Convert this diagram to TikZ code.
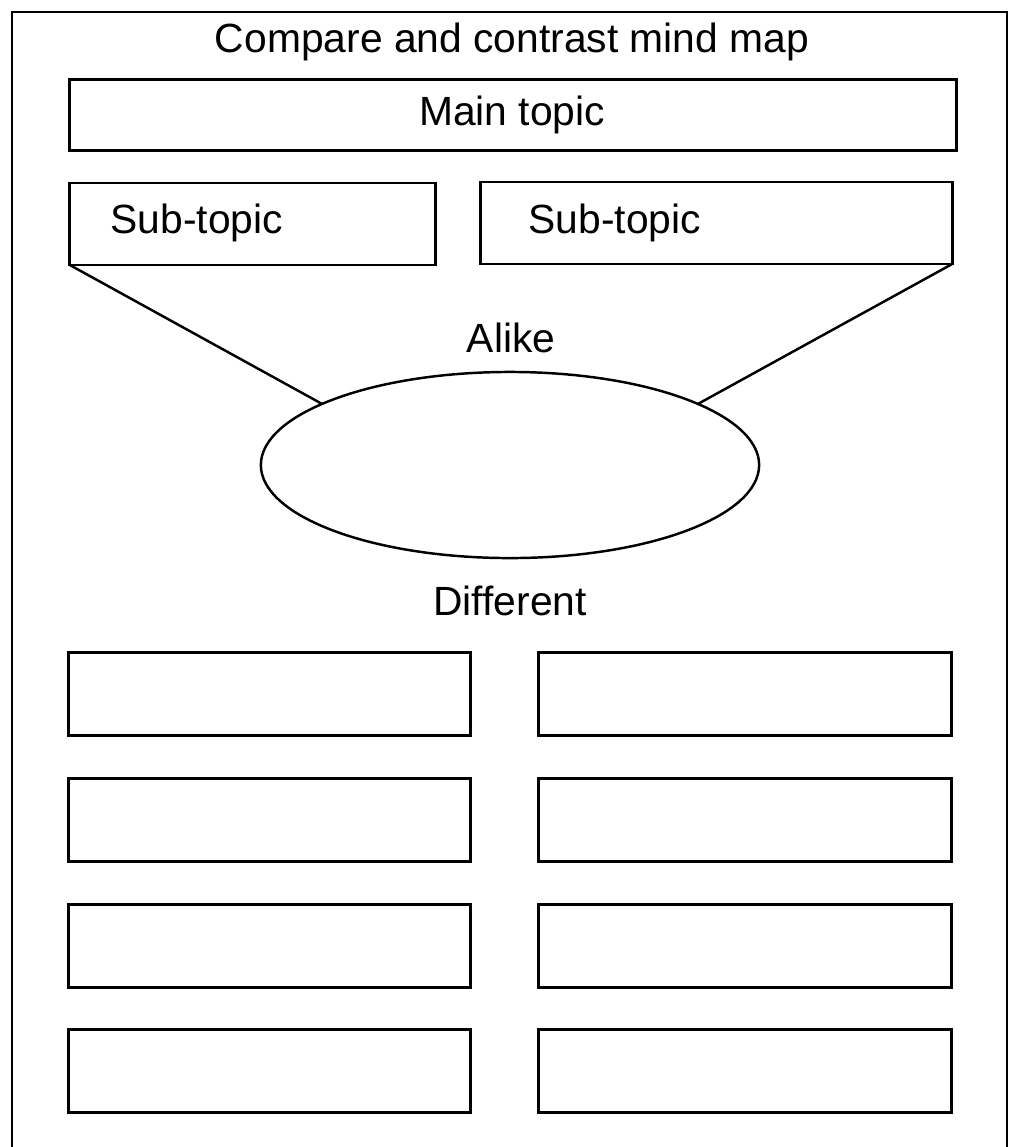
\documentclass[tikz,border=0pt]{standalone}
\usepackage{fontspec}
\setmainfont{Liberation Sans}
\usetikzlibrary{shapes}
\tikzstyle{bx}=[rectangle,draw=black,line width=.8pt,inner sep=0pt,outer sep=0pt]
\tikzstyle{lbl}=[inner sep=0pt,font=\fontsize{11.6}{14}\selectfont]
\begin{document}
\begin{tikzpicture}[x=0.01cm,y=-0.01cm]
\useasboundingbox (0,0) rectangle (1012,1147);
\draw[line width=.6pt] (12,1147) -- (12,12) -- (1007,12) -- (1007,1147);
\node[lbl,anchor=base] (title) at (512,52) {Compare and contrast mind map};
\node[bx,minimum width=8.86cm,minimum height=.71cm] (main) at (513,115) {};
\node[lbl,anchor=base] (maintxt) at (512,125) {Main topic};
\node[bx,minimum width=3.65cm,minimum height=.82cm] (subl) at (252.5,224) {};
\node[bx,minimum width=4.71cm,minimum height=.82cm] (subr) at (716.5,223) {};
\node[lbl,anchor=base west] (subltxt) at (110,233) {Sub-topic};
\node[lbl,anchor=base west] (subrtxt) at (528,233) {Sub-topic};
\node[lbl,anchor=base] (alikelbl) at (511,352) {Alike};
\node[ellipse,draw=black,line width=.7pt,minimum width=4.98cm,minimum height=1.86cm,inner sep=0pt,outer sep=0pt] (alike) at (510,465) {};
\draw[line width=.7pt] (subl.south west) -- (alike.162);
\draw[line width=.7pt] (subr.south east) -- (alike.18);
\node[lbl,anchor=base] (difflbl) at (510,615) {Different};
\foreach \y/\n in {694/1,820/2,946/3,1071/4}{
\node[bx,minimum width=4.01cm,minimum height=.83cm] (dl\n) at (269.5,\y) {};
\node[bx,minimum width=4.12cm,minimum height=.83cm] (dr\n) at (745,\y) {};
}
\end{tikzpicture}
\end{document}
